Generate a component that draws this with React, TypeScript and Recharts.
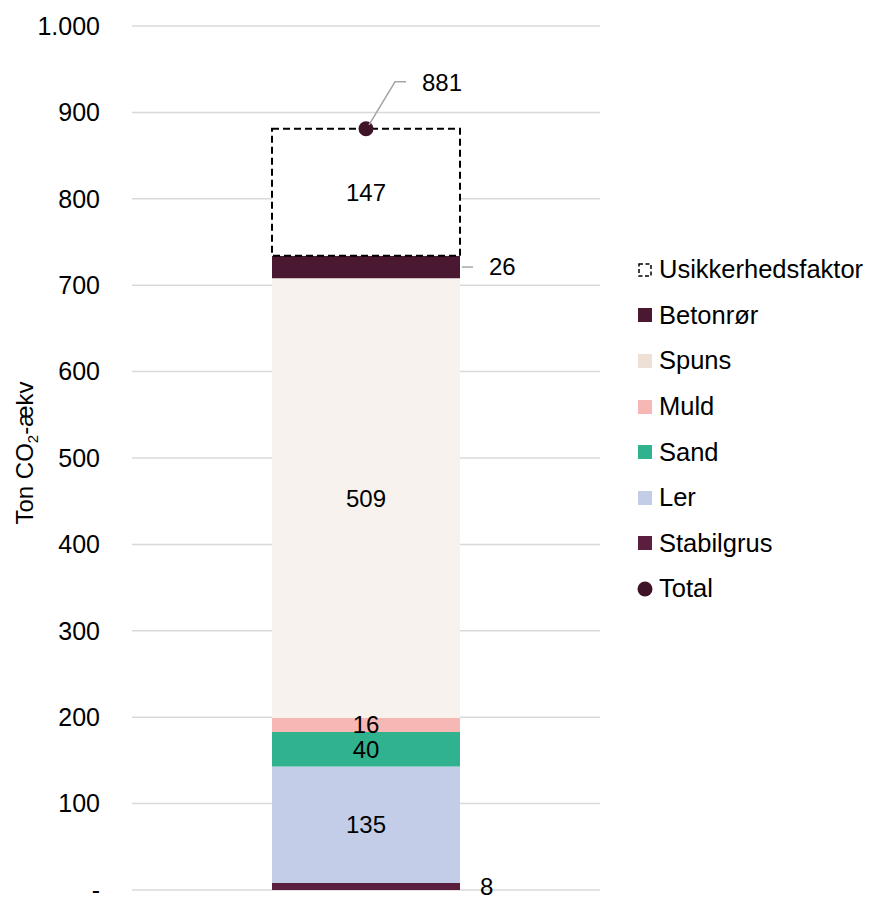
import React from 'react';
import { ComposedChart, Bar, Line, XAxis, YAxis, CartesianGrid, LabelList, Legend, Label } from 'recharts';

const categories = ['Projekt'];
const stabilgrus = [8];
const ler = [135];
const sand = [40];
const muld = [16];
const spuns = [509];
const betonror = [26];
const usikkerhed = [147];
const total = [881];
const yTicks = [0, 100, 200, 300, 400, 500, 600, 700, 800, 900, 1000];

const FONT = '"Liberation Sans", Arial, sans-serif';

const C = {
  Stabilgrus: '#5C1E3F',
  Ler: '#C3CDE8',
  Sand: '#31B28F',
  Muld: '#F7B8B5',
  Spuns: '#F7F2EE',
  SpunsLegend: '#EDE1D7',
  Betonror: '#4A1931',
  Total: '#3F1429',
};

const data = categories.map((c, i) => ({
  name: c,
  Stabilgrus: stabilgrus[i],
  Ler: ler[i],
  Sand: sand[i],
  Muld: muld[i],
  Spuns: spuns[i],
  'Betonrør': betonror[i],
  Usikkerhedsfaktor: usikkerhed[i],
  Total: total[i],
}));

const legendItems = [
  { name: 'Usikkerhedsfaktor', type: 'dashed' },
  { name: 'Betonrør', type: 'rect', color: C.Betonror },
  { name: 'Spuns', type: 'rect', color: C.SpunsLegend },
  { name: 'Muld', type: 'rect', color: C.Muld },
  { name: 'Sand', type: 'rect', color: C.Sand },
  { name: 'Ler', type: 'rect', color: C.Ler },
  { name: 'Stabilgrus', type: 'rect', color: C.Stabilgrus },
  { name: 'Total', type: 'circle', color: C.Total },
];

const box = (p: any) => {
  const vb = p.viewBox || {};
  return {
    x: vb.x ?? p.x,
    y: vb.y ?? p.y,
    width: vb.width ?? p.width ?? 0,
    height: vb.height ?? p.height ?? 0,
  };
};

const OutsideLabel = (withLine: boolean) => (p: any) => {
  const { x, y, width, height } = box(p);
  const cy = y + height / 2;
  const right = x + width;
  return (
    <g>
      {withLine && <line x1={right + 2} y1={cy} x2={right + 13} y2={cy} stroke="#A6A6A6" strokeWidth={1.5} />}
      <text x={right + (withLine ? 29 : 20)} y={cy} dy="0.35em" fontSize={24} fontFamily={FONT} fill="#000">
        {p.value}
      </text>
    </g>
  );
};

const TotalLabel = (p: any) => {
  const { x, y } = box(p);
  return (
    <g>
      <polyline
        points={`${x + 3},${y - 4} ${x + 29},${y - 47} ${x + 40},${y - 47}`}
        fill="none"
        stroke="#A6A6A6"
        strokeWidth={1.5}
      />
      <text x={x + 56} y={y - 46} dy="0.35em" fontSize={24} fontFamily={FONT} fill="#000">
        {p.value}
      </text>
    </g>
  );
};

const renderLegend = () => (
  <div style={{ fontFamily: FONT, fontSize: 25.5, color: '#000', width: 228 }}>
    {legendItems.map((it) => (
      <div key={it.name} style={{ display: 'flex', alignItems: 'center', height: 45.6, whiteSpace: 'nowrap' }}>
        <svg width={16} height={16} style={{ marginRight: 6, flexShrink: 0 }}>
          {it.type === 'rect' && <rect x={1} y={1} width={14} height={14} fill={it.color} />}
          {it.type === 'circle' && <circle cx={8} cy={8} r={7.5} fill={it.color} />}
          {it.type === 'dashed' && (
            <rect x={2} y={2} width={12} height={12} fill="#fff" stroke="#000" strokeWidth={1.5} strokeDasharray="4 2.5" />
          )}
        </svg>
        <span>{it.name}</span>
      </div>
    ))}
  </div>
);

const YLabel = () => (
  <text
    transform="translate(17, 445) rotate(-90)"
    textAnchor="middle"
    dy="0.35em"
    fontSize={24}
    fontFamily={FONT}
    fill="#000"
  >
    Ton CO
    <tspan fontSize={15} dy={5}>2</tspan>
    <tspan dy={-5}>-ækv</tspan>
  </text>
);

const labelStyle = { fontSize: 24, fontFamily: FONT, fill: '#000' };

export default function App() {
  return (
    <ComposedChart
      width={865}
      height={890}
      data={data}
      margin={{ top: 18, right: 45, bottom: 8, left: 0 }}
      style={{ fontFamily: FONT }}
    >
      <CartesianGrid horizontal vertical={false} stroke="#D9D9D9" strokeWidth={1.5} />
      <XAxis dataKey="name" hide />
      <YAxis
        width={124}
        domain={[0, 1000]}
        ticks={yTicks}
        interval={0}
        axisLine={false}
        tickLine={false}
        tickSize={0}
        tickMargin={32}
        tick={{ fontSize: 25, fontFamily: FONT, fill: '#000' }}
        tickFormatter={(v: number) => (v === 0 ? '-' : v >= 1000 ? v.toLocaleString('de-DE') : String(v))}
      >
        <Label content={<YLabel />} />
      </YAxis>
      <Bar dataKey="Stabilgrus" stackId="a" fill={C.Stabilgrus} barSize={188} isAnimationActive={false}>
        <LabelList dataKey="Stabilgrus" content={OutsideLabel(false)} />
      </Bar>
      <Bar dataKey="Ler" stackId="a" fill={C.Ler} barSize={188} isAnimationActive={false}>
        <LabelList dataKey="Ler" position="center" style={labelStyle} />
      </Bar>
      <Bar dataKey="Sand" stackId="a" fill={C.Sand} barSize={188} isAnimationActive={false}>
        <LabelList dataKey="Sand" position="center" style={labelStyle} />
      </Bar>
      <Bar dataKey="Muld" stackId="a" fill={C.Muld} barSize={188} isAnimationActive={false}>
        <LabelList dataKey="Muld" position="center" style={labelStyle} />
      </Bar>
      <Bar dataKey="Spuns" stackId="a" fill={C.Spuns} barSize={188} isAnimationActive={false}>
        <LabelList dataKey="Spuns" position="center" style={labelStyle} />
      </Bar>
      <Bar dataKey="Betonrør" stackId="a" fill={C.Betonror} barSize={188} isAnimationActive={false}>
        <LabelList dataKey="Betonrør" content={OutsideLabel(true)} />
      </Bar>
      <Bar
        dataKey="Usikkerhedsfaktor"
        stackId="a"
        fill="#FFFFFF"
        stroke="#000"
        strokeWidth={2}
        strokeDasharray="7 4"
        barSize={188}
        isAnimationActive={false}
      >
        <LabelList dataKey="Usikkerhedsfaktor" position="center" style={labelStyle} />
      </Bar>
      <Line
        dataKey="Total"
        stroke="none"
        dot={{ r: 7.5, fill: C.Total, stroke: 'none' }}
        activeDot={false}
        legendType="none"
        isAnimationActive={false}
      >
        <LabelList dataKey="Total" content={TotalLabel} />
      </Line>
      <Legend
        layout="vertical"
        align="right"
        verticalAlign="middle"
        content={renderLegend}
        wrapperStyle={{ position: 'absolute', left: 629, top: 239, width: 228 }}
      />
    </ComposedChart>
  );
}
